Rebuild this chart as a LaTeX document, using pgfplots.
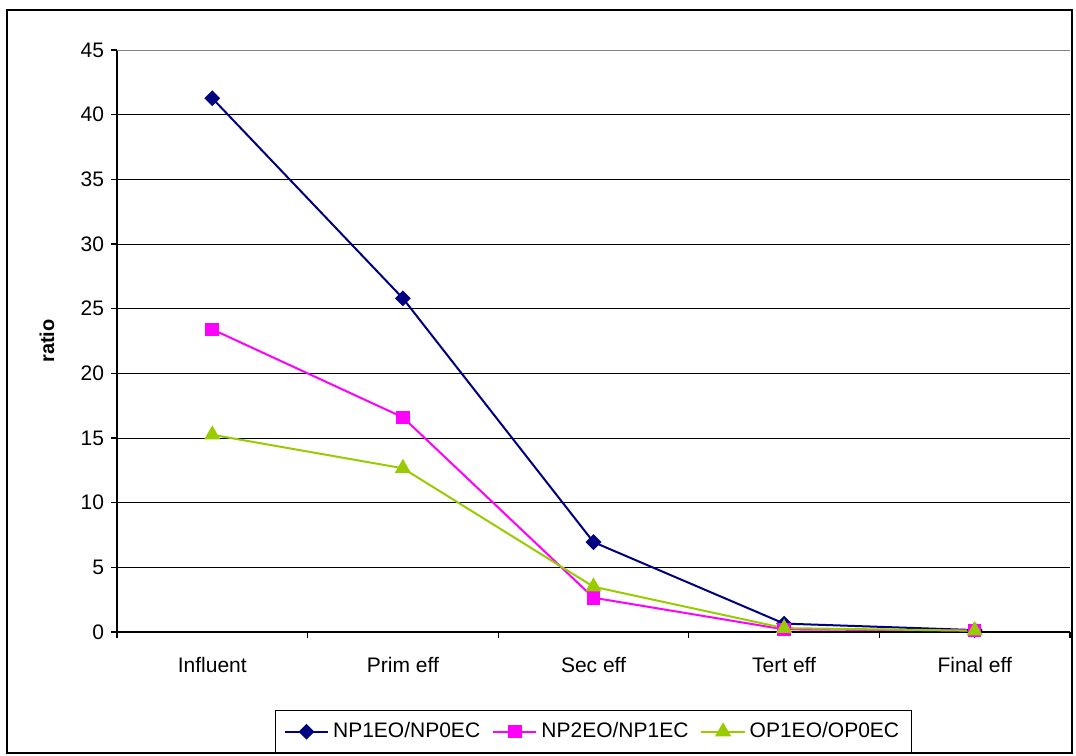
\documentclass[border=0pt]{standalone}
\usepackage{fontspec}
\setmainfont{Liberation Sans}
\usepackage{pgfplots}
\pgfplotsset{compat=1.18}
\definecolor{cnavy}{RGB}{0,0,128}
\definecolor{cmag}{RGB}{255,0,255}
\definecolor{cgreen}{RGB}{153,204,0}
\begin{document}
\begin{tikzpicture}
\useasboundingbox (-58.5pt,-61.5pt) rectangle (479.5pt,316pt);
\draw[line width=0.6pt] (-55pt,-60.5pt) rectangle (477.5pt,311pt);
\begin{axis}[
  scale only axis,
  width=476.5pt, height=291pt,
  xmin=-0.5, xmax=4.5,
  ymin=0, ymax=45,
  axis x line*=bottom, axis y line*=left,
  axis line style={black, line width=0.6pt},
  xtick={0,1,2,3,4},
  xticklabels={Influent,Prim eff,Sec eff,Tert eff,Final eff},
  minor xtick={-0.5,0.5,1.5,2.5,3.5,4.5},
  major x tick style={draw=none},
  minor tick length=3pt,
  ytick={0,5,...,45},
  major tick length=3pt,
  tick align=outside,
  tick style={black, line width=0.6pt},
  ymajorgrids,
  grid style={black, line width=0.5pt},
  /pgf/number format/assume math mode=true,
  tick label style={font=\fontsize{10.5}{12}\selectfont},
  xticklabel style={yshift=-6pt},
  ylabel={\textbf{ratio}},
  ylabel style={at={(axis description cs:-0.0735,0.5)}, anchor=center, font=\fontsize{10}{12}\selectfont},
  legend columns=3,
  legend style={at={(axis description cs:0.5,-0.134)}, anchor=north, draw=black, line width=0.6pt,
    font=\fontsize{10.5}{12}\selectfont, /tikz/every even column/.append style={column sep=4pt},
    inner sep=4pt},
  legend image code/.code={\draw[mark repeat=2,mark phase=2] plot coordinates {(0cm,0cm) (0.38cm,0cm) (0.76cm,0cm)};},
  legend image post style={line width=1pt},
]
\draw[gray, line width=0.6pt] (axis cs:-0.5,45) -- (axis cs:4.5,45);
\addplot[cnavy, line width=1pt, mark=square*, mark size=2.3pt, mark options={rotate=45, fill=cnavy}]
  coordinates {(0,41.27) (1,25.8) (2,6.95) (3,0.65) (4,0.15)};
\addlegendentry{NP1EO/NP0EC}
\addplot[cmag, line width=1pt, mark=square*, mark size=2.9pt, mark options={fill=cmag}]
  coordinates {(0,23.4) (1,16.6) (2,2.65) (3,0.2) (4,0.12)};
\addlegendentry{NP2EO/NP1EC}
\addplot[cgreen, line width=1pt, mark=triangle*, mark size=3.7pt, mark options={fill=cgreen}]
  coordinates {(0,15.25) (1,12.66) (2,3.5) (3,0.3) (4,0.1)};
\addlegendentry{OP1EO/OP0EC}
\end{axis}
\end{tikzpicture}
\end{document}
